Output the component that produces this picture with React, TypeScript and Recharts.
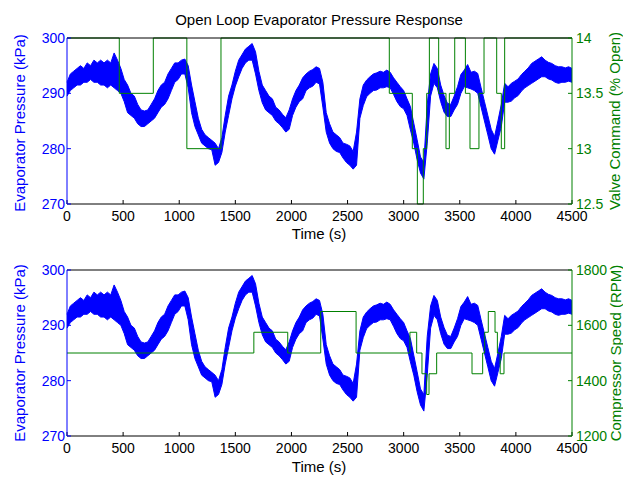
import React from 'react';
import { ComposedChart, Area, Line, XAxis, YAxis } from 'recharts';

// pressure envelope, one pair every 30 s (upper / lower edge of the noisy trace)
const SAMPLE_S = 30;
const pressureHigh = [
  292, 293.5, 294, 294.5, 295, 294.5, 295.5, 295, 296, 295.5,
  296, 295.5, 296, 295.5, 297.3, 296, 294.5, 292.5, 291.5, 290,
  289.5, 288, 287, 286.8, 287, 288, 289, 290.5, 291.5, 292,
  293.5, 294.5, 295.5, 295.5, 296, 296.2, 295, 291.5, 288.5, 285.5,
  283.5, 282.5, 282, 281.5, 281, 280, 282, 286, 289.5, 291.5,
  294, 296, 297, 298, 298.5, 299, 297.5, 294, 291.5, 290.5,
  289.5, 289, 287.5, 287, 286.2, 285.6, 287, 289, 290.5, 291.5,
  292.8, 293.5, 294, 294.3, 294.8, 294.5, 292, 286.5, 284.5, 283,
  282.5, 282, 281, 280.8, 280.5, 279.5, 283, 289, 291.5, 292.4,
  293, 293.5, 293.7, 294, 293.8, 294.2, 293.8, 292.8, 292, 291.2,
  290.5, 289, 287.6, 284.6, 281.6, 278.5, 277.5, 288, 293.5, 295.4,
  294.5, 291.5, 289.6, 288.2, 288, 289.5, 291.2, 293.4, 294.2, 295.2,
  293.8, 294, 293.6, 291, 288.5, 286, 283.5, 282.2, 285, 288,
  291.8, 291.2, 291.8, 292.2, 292.6, 293.4, 294, 294.6, 295.4, 295.8,
  296.2, 296.6, 296, 295.6, 295.4, 295, 294.8, 294.8, 294.6, 294.8,
  294.5,
];
const pressureLow = [
  289.5, 290.5, 291, 291.5, 291.5, 292, 292, 292.5, 292, 292,
  291.5, 291.5, 291, 291.5, 291, 290.5, 290, 288.5, 286.5, 286,
  285.5, 284.5, 284, 284, 284.5, 285, 285.5, 286.5, 287.5, 288,
  289, 290.5, 292, 292.5, 293.5, 293.5, 291, 286.5, 284, 282.5,
  281, 280.5, 280, 279.8, 277, 277.5, 279.3, 283, 286, 289,
  291.3, 293, 294.5, 295.5, 296, 296, 293.5, 290.5, 288.3, 287,
  286.5, 286, 285, 284.5, 283.8, 283, 283.5, 286, 287.5, 288.5,
  289, 290.5, 291, 291.3, 292, 291.7, 287.5, 283, 281, 280,
  279.5, 279.3, 278.3, 277.5, 277, 276.3, 277, 285.5, 287.8, 289.4,
  290, 290.5, 290.6, 291, 291, 291.2, 291, 289.8, 288.5, 287.6,
  287.2, 286, 283.4, 281, 278, 275.6, 274.5, 281, 289.5, 291.8,
  291, 288.5, 286.6, 285.8, 285.8, 287, 288, 290, 291.2, 291,
  290.8, 290.5, 290, 287.5, 285, 282.5, 280, 279, 281.5, 284,
  288.4, 288.4, 288.6, 289.2, 289.6, 290.4, 291, 291.4, 291.8, 292.2,
  292.6, 293, 293, 292.6, 292.4, 292, 291.8, 292, 292, 292.2,
  292,
];

// valve command steps (% open), value holds from each time until the next
const valveTime = [0, 466, 769, 1068, 1372, 2872, 3077, 3122, 3175, 3205, 3229, 3312, 3377, 3407, 3455, 3550, 3591, 3671, 3716, 3829, 3870, 3900, 4500];
const valveCmd = [14, 13.5, 14, 13, 14, 13.5, 13, 12.5, 13, 13.5, 14, 13.5, 13, 13.5, 14, 13.5, 13, 13.5, 14, 13.5, 13, 14, 14];

// compressor speed steps (RPM)
const speedTime = [0, 1665, 1967, 2261, 2576, 3056, 3116, 3163, 3205, 3226, 3294, 3609, 3704, 3722, 3754, 3814, 3835, 3860, 3894, 4500];
const speedRpm = [1500, 1575, 1500, 1650, 1500, 1575, 1500, 1425, 1350, 1425, 1500, 1425, 1500, 1575, 1650, 1575, 1500, 1425, 1500, 1500];

const timeTicks = [0, 500, 1000, 1500, 2000, 2500, 3000, 3500, 4000, 4500];
const pressureTicks = [270, 280, 290, 300];
const valveTicks = [12.5, 13, 13.5, 14];
const speedTicks = [1200, 1400, 1600, 1800];

const BLUE = '#0000ff';
const GREEN = '#008000';
const FONT = '"Liberation Sans", Arial, Helvetica, sans-serif';
const TICK_FS = 14;
const LABEL_FS = 15;

const pressureBand = pressureHigh.map((hi, i) => ({ t: i * SAMPLE_S, band: [pressureLow[i], hi] }));
const valveSteps = valveTime.map((t, i) => ({ t, v: valveCmd[i] }));
const speedSteps = speedTime.map((t, i) => ({ t, v: speedRpm[i] }));

interface PanelProps {
  height: number;
  top: number;
  bottom: number;
  steps: { t: number; v: number }[];
  rightDomain: [number, number];
  rightTicks: number[];
}

// axis boxes: bottom 30, top 5, left 50, right 45 -> margins are the rest
const Panel: React.FC<PanelProps> = ({ height, top, bottom, steps, rightDomain, rightTicks }) => (
  <ComposedChart
    width={623}
    height={height}
    data={pressureBand}
    margin={{ top: top - 5, right: 51 - 45, bottom: bottom - 30, left: 67 - 50 }}
    style={{ fontFamily: FONT }}
  >
    <XAxis
      xAxisId="b"
      dataKey="t"
      type="number"
      domain={[0, 4500]}
      ticks={timeTicks}
      interval={0}
      height={30}
      tickSize={-4}
      tickMargin={11}
      stroke="#000"
      tick={{ fill: '#000', fontSize: TICK_FS }}
    />
    <XAxis
      xAxisId="t"
      orientation="top"
      dataKey="t"
      type="number"
      domain={[0, 4500]}
      ticks={timeTicks}
      interval={0}
      height={5}
      tickSize={-4}
      tick={false}
      stroke="#000"
    />
    <YAxis
      yAxisId="l"
      type="number"
      domain={[270, 300]}
      ticks={pressureTicks}
      interval={0}
      width={50}
      tickSize={-4}
      tickMargin={6}
      stroke={BLUE}
      tick={{ fill: BLUE, fontSize: TICK_FS }}
    />
    <YAxis
      yAxisId="r"
      orientation="right"
      type="number"
      domain={rightDomain}
      ticks={rightTicks}
      interval={0}
      width={45}
      tickSize={-4}
      tickMargin={8}
      stroke={GREEN}
      tick={{ fill: GREEN, fontSize: TICK_FS }}
    />
    <Area
      xAxisId="b"
      yAxisId="l"
      dataKey="band"
      type="linear"
      stroke={BLUE}
      strokeWidth={1}
      fill={BLUE}
      fillOpacity={1}
      dot={false}
      activeDot={false}
      isAnimationActive={false}
    />
    <Line
      xAxisId="b"
      yAxisId="r"
      data={steps}
      dataKey="v"
      type="stepAfter"
      stroke={GREEN}
      strokeWidth={1}
      dot={false}
      activeDot={false}
      isAnimationActive={false}
    />
  </ComposedChart>
);

export default function App() {
  return (
    <div style={{ position: 'absolute', left: 0, top: 0, width: 623, height: 477, background: '#fff', overflow: 'hidden' }}>
      <div style={{ position: 'absolute', left: 0, top: 0 }}>
        <Panel height={240} top={38} bottom={36} steps={valveSteps} rightDomain={[12.5, 14]} rightTicks={valveTicks} />
      </div>
      <div style={{ position: 'absolute', left: 0, top: 240 }}>
        <Panel height={237} top={30} bottom={41} steps={speedSteps} rightDomain={[1200, 1800]} rightTicks={speedTicks} />
      </div>
      <svg width={623} height={477} style={{ position: 'absolute', left: 0, top: 0, pointerEvents: 'none', fontFamily: FONT, fontSize: LABEL_FS }}>
        <text x={319} y={25} textAnchor="middle" fill="#000">Open Loop Evaporator Pressure Response</text>
        <text x={319} y={239} textAnchor="middle" fill="#000">Time (s)</text>
        <text x={319} y={472} textAnchor="middle" fill="#000">Time (s)</text>
        <text transform="translate(25,123) rotate(-90)" textAnchor="middle" fill={BLUE}>Evaporator Pressure (kPa)</text>
        <text transform="translate(25,353) rotate(-90)" textAnchor="middle" fill={BLUE}>Evaporator Pressure (kPa)</text>
        <text transform="translate(620,121) rotate(-90)" textAnchor="middle" fill={GREEN}>Valve Command (% Open)</text>
        <text transform="translate(621,353) rotate(-90)" textAnchor="middle" fill={GREEN}>Compressor Speed (RPM)</text>
      </svg>
    </div>
  );
}
